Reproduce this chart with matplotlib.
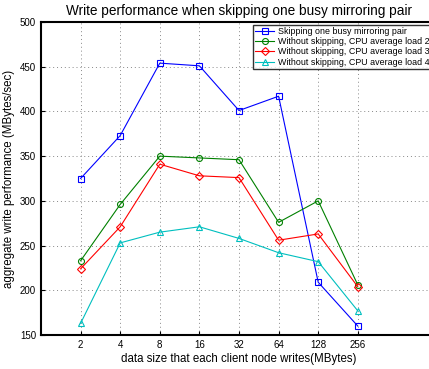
import matplotlib
matplotlib.use("Agg")
import matplotlib.pyplot as plt

plt.rcParams['font.family'] = ['Liberation Sans', 'DejaVu Sans']

# data size per client node (MBytes) and write throughput (MBytes/sec)
sizes = ['2', '4', '8', '16', '32', '64', '128', '256']
skip_one = [325, 373, 454, 451, 401, 417, 209, 160]
load_2 = [233, 296, 350, 348, 346, 276, 300, 206]
load_3 = [224, 271, 341, 328, 326, 256, 263, 204]
load_4 = [163, 253, 265, 271, 258, 242, 232, 177]

labels = ['Skipping one busy mirroring pair',
          'Without skipping, CPU average load 2',
          'Without skipping, CPU average load 3',
          'Without skipping, CPU average load 4']

fig = plt.figure(figsize=(4.29, 3.69), dpi=100)
ax = fig.add_axes([41 / 429, 1 - 335 / 369, 396 / 429, 313 / 369])

x = list(range(1, len(sizes) + 1))
styles = [('#0000ff', 's', skip_one), ('#008000', 'o', load_2),
          ('#ff0000', 'D', load_3), ('#00bfbf', '^', load_4)]
for (color, marker, vals), lab in zip(styles, labels):
    ms = 3.6 if marker == 'D' else 4.3
    ax.plot(x, vals, color=color, marker=marker, markersize=ms,
            markerfacecolor='none', markeredgewidth=0.8, linewidth=0.8,
            label=lab)

ax.set_xlim(0, 10)
ax.set_ylim(150, 500)
ax.set_xticks(x)
ax.set_xticklabels(sizes)
ax.set_yticks(range(150, 501, 50))
ax.tick_params(direction='in', labelsize=7, length=3, width=0.8)
ax.grid(True, linestyle=(0, (1, 3)), color='#888888', linewidth=0.7)
for side in ax.spines.values():
    side.set_linewidth(1.5)

ax.set_xlabel('data size that each client node writes(MBytes)', fontsize=8.3, labelpad=2)
ax.set_ylabel('aggregate write performance (MBytes/sec)', fontsize=8.3)
ax.yaxis.set_label_coords(-15 / 396 * 1.0 - 11 / 396, 0.5)
ax.set_title('Write performance when skipping one busy mirroring pair', fontsize=9.8, pad=5)

leg = ax.legend(loc='upper left', bbox_to_anchor=(253 / 429, 1 - 25 / 369),
                bbox_transform=fig.transFigure, fontsize=6.4, frameon=True,
                fancybox=False, edgecolor='black', borderpad=0.2,
                labelspacing=0.15, handlelength=2.2, handletextpad=0.4,
                borderaxespad=0)
leg.get_frame().set_linewidth(1.0)

fig.savefig('out.png', dpi=100)
